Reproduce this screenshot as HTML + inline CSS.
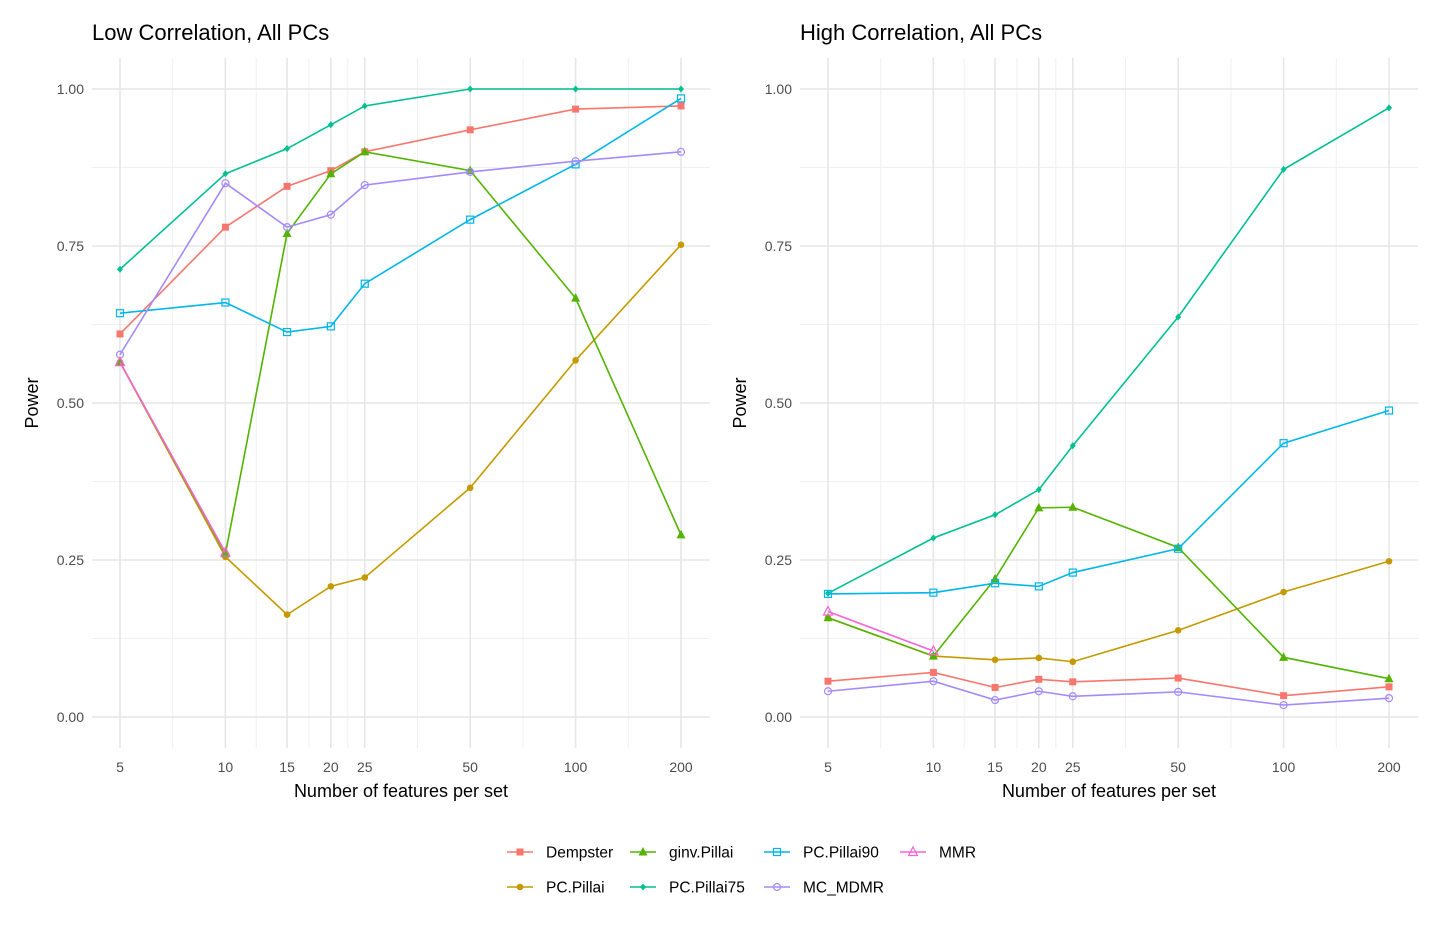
<!DOCTYPE html>
<html><head><meta charset="utf-8"><style>
body{margin:0;background:#fff;}
svg text{font-family:"Liberation Sans",Arial,sans-serif;}
</style></head><body>
<svg id="chart" width="1440" height="936" xmlns="http://www.w3.org/2000/svg"></svg>
<script>
const xValues=[5,10,15,20,25,50,100,200];
const seriesNames=["Dempster","PC.Pillai","ginv.Pillai","PC.Pillai75","PC.Pillai90","MC_MDMR","MMR"];
const yTicks=[0,0.25,0.5,0.75,1.0];
const yTickLabels=["0.00","0.25","0.50","0.75","1.00"];
const lowDempster=[0.61,0.78,0.845,0.87,0.90,0.935,0.968,0.973];
const lowPCPillai=[0.565,0.255,0.163,0.208,0.222,0.365,0.568,0.752];
const lowGinv=[0.565,0.26,0.77,0.865,0.90,0.87,0.667,0.29];
const lowP75=[0.713,0.865,0.905,0.943,0.973,1.0,1.0,1.0];
const lowP90=[0.643,0.66,0.613,0.622,0.69,0.792,0.88,0.985];
const lowMDMR=[0.577,0.85,0.78,0.80,0.847,0.868,0.885,0.90];
const lowMMR=[0.565,0.262];
const highDempster=[0.057,0.071,0.047,0.06,0.056,0.062,0.034,0.048];
const highPCPillai=[0.158,0.097,0.091,0.094,0.088,0.138,0.199,0.248];
const highGinv=[0.158,0.097,0.22,0.333,0.334,0.27,0.095,0.061];
const highP75=[0.197,0.285,0.322,0.362,0.432,0.637,0.872,0.97];
const highP90=[0.196,0.198,0.213,0.208,0.23,0.268,0.436,0.488];
const highMDMR=[0.041,0.057,0.027,0.041,0.033,0.04,0.019,0.03];
const highMMR=[0.168,0.105];

const colors={"Dempster":"#F8766D","PC.Pillai":"#C49A00","ginv.Pillai":"#53B400","PC.Pillai75":"#00C094","PC.Pillai90":"#00B6EB","MC_MDMR":"#A58AFF","MMR":"#FB61D7"};
const shapes={"Dempster":"sq","PC.Pillai":"ci","ginv.Pillai":"tr","PC.Pillai75":"di","PC.Pillai90":"osq","MC_MDMR":"oci","MMR":"otr"};
const svg=document.getElementById('chart');
const NS="http://www.w3.org/2000/svg";
function mk(tag,attrs,parent){const e=document.createElementNS(NS,tag);for(const k in attrs)e.setAttribute(k,attrs[k]);(parent||svg).appendChild(e);return e;}
function txt(s,attrs,parent){const e=mk('text',attrs,parent);e.textContent=s;return e;}
function marker(shape,x,y,col,g){
  if(shape==="sq")return mk('rect',{x:x-3.5,y:y-3.5,width:7,height:7,fill:col},g);
  if(shape==="osq")return mk('rect',{x:x-3.5,y:y-3.5,width:7,height:7,fill:"none",stroke:col,"stroke-width":1.2},g);
  if(shape==="ci")return mk('circle',{cx:x,cy:y,r:3.3,fill:col},g);
  if(shape==="oci")return mk('circle',{cx:x,cy:y,r:3.5,fill:"none",stroke:col,"stroke-width":1.2},g);
  if(shape==="tr")return mk('polygon',{points:`${x},${y-5} ${x-4.5},${y+3.5} ${x+4.5},${y+3.5}`,fill:col},g);
  if(shape==="otr")return mk('polygon',{points:`${x},${y-5} ${x-4.5},${y+3.5} ${x+4.5},${y+3.5}`,fill:"none",stroke:col,"stroke-width":1.2},g);
  if(shape==="di")return mk('polygon',{points:`${x},${y-3.5} ${x+3},${y} ${x},${y+3.5} ${x-3},${y}`,fill:col},g);
}
const panels=[
 {title:"Low Correlation, All PCs",left:92,right:710,x5:120,data:[lowDempster,lowPCPillai,lowGinv,lowP75,lowP90,lowMDMR,lowMMR],name:"low"},
 {title:"High Correlation, All PCs",left:800,right:1418,x5:828,data:[highDempster,highPCPillai,highGinv,highP75,highP90,highMDMR,highMMR],name:"high"}];
const y0=717,yPer=628,yTop=58,yBottom=748;
const decade=561/Math.log10(40);
panels.forEach(p=>{
  const g=mk('g',{});
  
  
  const xs=v=>p.x5+decade*Math.log10(v/5);
  const ys=v=>y0-v*yPer;
  for(let i=0;i<yTicks.length-1;i++){const v=(yTicks[i]+yTicks[i+1])/2;mk('line',{x1:p.left,x2:p.right,y1:ys(v),y2:ys(v),stroke:"#f0f0f0","stroke-width":1},g);}
  for(let i=0;i<xValues.length-1;i++){const v=Math.sqrt(xValues[i]*xValues[i+1]);mk('line',{x1:xs(v),x2:xs(v),y1:yTop,y2:yBottom,stroke:"#f0f0f0","stroke-width":1},g);}
  yTicks.forEach((v,i)=>{mk('line',{x1:p.left,x2:p.right,y1:ys(v),y2:ys(v),stroke:"#e6e6e6","stroke-width":1.6},g);
    txt(yTickLabels[i],{x:p.left-8,y:ys(v)+5,"text-anchor":"end","font-size":14,fill:"#4d4d4d"},g);});
  xValues.forEach(v=>{mk('line',{x1:xs(v),x2:xs(v),y1:yTop,y2:yBottom,stroke:"#e6e6e6","stroke-width":1.6},g);
    txt(String(v),{x:xs(v),y:772,"text-anchor":"middle","font-size":14,fill:"#4d4d4d"},g);});
  txt(p.title,{x:p.left,y:40,"font-size":22,fill:"#000"},g);
  txt("Number of features per set",{x:(p.left+p.right)/2,y:797,"text-anchor":"middle","font-size":18,fill:"#000"},g);
  txt("Power",{x:0,y:0,"text-anchor":"middle","font-size":18,fill:"#000",transform:`translate(${p.left-54},${ys(0.5)}) rotate(-90)`},g);
  seriesNames.forEach((s,si)=>{
    const vals=p.data[si];const col=colors[s];
    const sg=mk('g',{},g);
    
    
    const pts=vals.map((v,i)=>xs(xValues[i])+","+ys(v)).join(" ");
    mk('polyline',{points:pts,fill:"none",stroke:col,"stroke-width":1.6},sg);
    vals.forEach((v,i)=>marker(shapes[s],xs(xValues[i]),ys(v),col,sg));
  });
});
const lg=mk('g',{});


const legendPos=[[520,852],[520,887],[643,852],[643,887],[777,852],[777,887],[913,852]];
seriesNames.forEach((s,i)=>{
  const [x,y]=legendPos[i];
  const e=mk('g',{},lg);
  
  
  mk('line',{x1:x-13,x2:x+13,y1:y,y2:y,stroke:colors[s],"stroke-width":1.6},e);
  marker(shapes[s],x,y,colors[s],e);
  txt(s,{x:x+26,y:y+5.5,"font-size":15.5,fill:"#000"},e);
});
</script>
</body></html>
